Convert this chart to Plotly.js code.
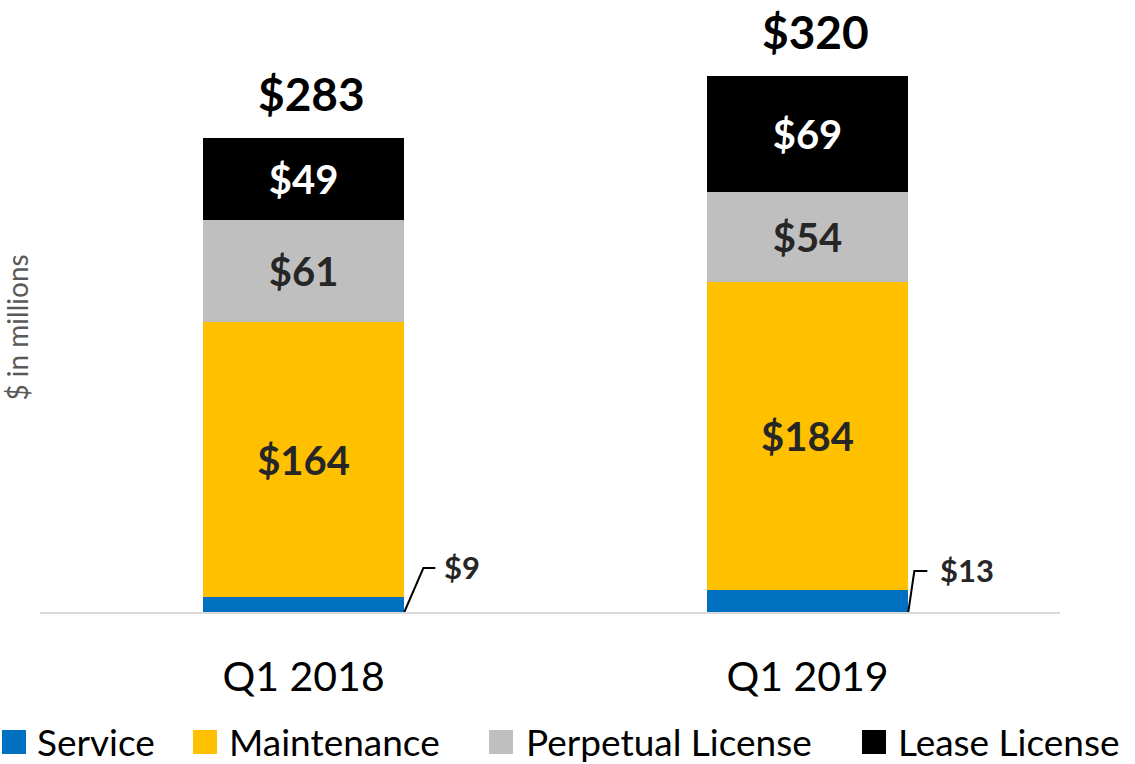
<!DOCTYPE html>
<html>
<head>
<meta charset="utf-8">
<script src="https://cdn.plot.ly/plotly-3.0.1.min.js"></script>
<style>html,body{margin:0;padding:0;background:#fff;}#chart{width:1135px;height:764px;}</style>
</head>
<body>
<div id="chart"></div>
<script>
// ---- data ----
const categories = ['Q1 2018', 'Q1 2019'];
const seriesNames = ['Service', 'Maintenance', 'Perpetual License', 'Lease License'];
const service = [9, 13];
const maintenance = [164, 184];
const perpetual = [61, 54];
const lease = [49, 69];
const totals = [283, 320];

// ---- styles ----
const colors = ['#0070C0', '#FFC000', '#BFBFBF', '#000000'];
const insideTextColors = ['#262626', '#262626', '#262626', '#FFFFFF'];
const FONT = 'Lato, "Open Sans", sans-serif';
const barWidth = 0.4;

const seriesValues = [service, maintenance, perpetual, lease];

const traces = seriesValues.map((vals, k) => ({
  type: 'bar',
  name: seriesNames[k],
  x: categories,
  y: vals,
  width: barWidth,
  marker: {color: colors[k], line: {width: 0}},
  text: k === 0 ? vals.map(() => '') : vals.map(v => '$' + v),
  textposition: k === 0 ? 'none' : 'inside',
  insidetextanchor: 'middle',
  constraintext: 'none',
  textfont: {family: FONT, size: 40, color: insideTextColors[k], weight: 'bold'},
  hoverinfo: 'skip',
  showlegend: false
}));

// layout geometry (pixels)
const W = 1135, H = 764;
const M = {l: 40, r: 75, t: 43, b: 152};
const plotW = W - M.l - M.r, plotH = H - M.t - M.b;
const pxX = px => (px - M.l) / plotW;
const pxY = py => (H - M.b - py) / plotH;

const annotations = [];
const shapes = [];

// totals above bars
totals.forEach((t, i) => {
  annotations.push({
    x: categories[i], y: t, xref: 'x', yref: 'y',
    text: '<b>$' + t + '</b>', showarrow: false,
    yanchor: 'middle', yshift: 45, xshift: 8,
    font: {family: FONT, size: 46, color: '#000000'}
  });
});

// service labels with leader lines
const leader = [
  {dx1: 19, dy1: 44, dx2: 31, lx: 38},
  {dx1: 6, dy1: 41, dx2: 19, lx: 30}
];
service.forEach((v, i) => {
  const xa = i + barWidth / 2;
  const L = leader[i];
  shapes.push({
    type: 'path', xref: 'x', yref: 'y',
    xsizemode: 'pixel', ysizemode: 'pixel',
    xanchor: xa, yanchor: 0,
    path: `M0,0 L${L.dx1},${L.dy1} L${L.dx2},${L.dy1}`,
    line: {color: '#000000', width: 2}
  });
  annotations.push({
    x: xa, y: 0, xref: 'x', yref: 'y',
    text: '<b>$' + v + '</b>', showarrow: false,
    xanchor: 'left', yanchor: 'middle',
    xshift: L.lx, yshift: L.dy1 + 1,
    font: {family: FONT, size: 31, color: '#262626'}
  });
});

// custom legend
const legendSq = [2, 193, 489, 862];
const legendTx = [36, 228, 525, 897];
const legendY = 741;
seriesNames.forEach((n, k) => {
  shapes.push({
    type: 'rect', xref: 'paper', yref: 'paper',
    x0: pxX(legendSq[k]), x1: pxX(legendSq[k] + 24),
    y0: pxY(legendY + 13), y1: pxY(legendY - 11),
    fillcolor: colors[k], line: {width: 0}
  });
  annotations.push({
    x: pxX(legendTx[k]), y: pxY(legendY), xref: 'paper', yref: 'paper',
    text: n, showarrow: false, xanchor: 'left', yanchor: 'middle',
    borderpad: 0,
    font: {family: FONT, size: 37, color: '#000000'}
  });
});

const layout = {
  width: W, height: H,
  margin: M,
  barmode: 'stack',
  paper_bgcolor: '#ffffff', plot_bgcolor: '#ffffff',
  font: {family: FONT},
  xaxis: {
    type: 'category',
    range: [-0.523, 1.501],
    showline: true, linecolor: '#D9D9D9', linewidth: 2,
    showgrid: false, zeroline: false,
    ticks: '', ticklabelstandoff: 28,
    tickfont: {family: FONT, size: 41, color: '#000000'}
  },
  yaxis: {
    range: [0, 340],
    showgrid: false, zeroline: false, showline: false,
    showticklabels: false, ticks: '',
    title: {text: '$ in millions', font: {family: FONT, size: 28, color: '#595959'}, standoff: 6}
  },
  annotations: annotations,
  shapes: shapes,
  showlegend: false
};

Plotly.newPlot('chart', traces, layout, {displayModeBar: false, staticPlot: true});
</script>
</body>
</html>
